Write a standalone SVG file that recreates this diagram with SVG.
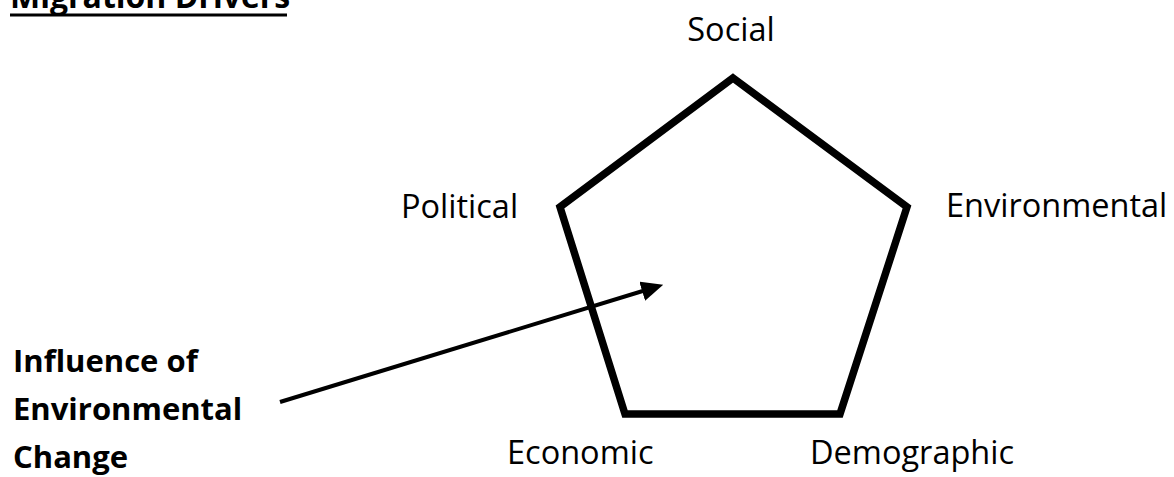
<svg xmlns="http://www.w3.org/2000/svg" width="1174" height="477" viewBox="0 0 1174 477">
<defs>
<style>
text{font-family:"Open Sans","Liberation Sans",sans-serif;fill:#000;font-size:32.5px}
.b{font-weight:bold;font-size:31px}
</style>
<marker id="ah" markerWidth="5.5" markerHeight="5" refX="1" refY="2.5" orient="auto" markerUnits="strokeWidth">
<path d="M0,0 L5.5,2.5 L0,5 Z" fill="#000"/>
</marker>
</defs>
<rect width="1174" height="477" fill="#fff"/>
<g id="title"><text class="b" x="10" y="8" style="font-size:32px">Migration Drivers</text><line x1="10" y1="15" x2="287" y2="15" stroke="#000" stroke-width="3"/></g>
<g id="pentagon"><polygon points="733,78 907,207 840,414 625,414 560,207" fill="none" stroke="#000" stroke-width="7.5" stroke-linejoin="miter"/></g>
<g id="social"><text x="731" y="41" text-anchor="middle">Social</text></g>
<g id="political"><text x="401" y="218">Political</text></g>
<g id="environmental"><text x="946" y="217">Environmental</text></g>
<g id="economic"><text x="507" y="464">Economic</text></g>
<g id="demographic"><text x="810" y="464">Demographic</text></g>
<g id="influence"><text class="b" x="13" y="372">Influence of</text><text class="b" x="13" y="420">Environmental</text><text class="b" x="13" y="468">Change</text></g>
<g id="connectors"><line x1="280" y1="402" x2="646" y2="290" stroke="#000" stroke-width="4" marker-end="url(#ah)"/></g>
</svg>
